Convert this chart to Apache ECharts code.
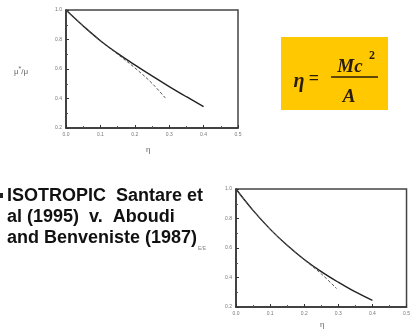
<!DOCTYPE html>
<html>
<head>
<meta charset="utf-8">
<script src="https://cdn.jsdelivr.net/npm/echarts@6/dist/echarts.min.js"></script>
<style>
  html, body { margin: 0; padding: 0; background: #fff; }
  #chart { width: 413px; height: 334px; }
</style>
</head>
<body>
<div id="chart"></div>
<script>
// top chart: mu*/mu vs eta
const eta1 = [0, 0.05, 0.1, 0.15, 0.2, 0.25, 0.3, 0.35, 0.4]
const muSolid = [1.0, 0.892, 0.792, 0.706, 0.628, 0.553, 0.481, 0.412, 0.345]
const etaDash1 = [0, 0.05, 0.1, 0.15, 0.2, 0.25, 0.29]
const muDash = [1.0, 0.892, 0.79, 0.70, 0.608, 0.503, 0.40]

// bottom chart: E/E vs eta
const eta2 = [0, 0.05, 0.1, 0.15, 0.2, 0.25, 0.3, 0.35, 0.4]
const eSolid = [1.0, 0.855, 0.728, 0.618, 0.522, 0.44, 0.368, 0.302, 0.245]
const etaDash2 = [0, 0.05, 0.1, 0.15, 0.2, 0.25, 0.295]
const eDash = [1.0, 0.855, 0.728, 0.618, 0.52, 0.425, 0.325]

const textLines = ['ISOTROPIC  Santare et', 'al (1995)  v.  Aboudi', 'and Benveniste (1987)']

const pairs = (xs, ys) => xs.map((x, i) => [x, ys[i]])

const chart = echarts.init(document.getElementById('chart'))

const xAxisBase = {
  type: 'value',
  min: 0,
  max: 0.5,
  interval: 0.1,
  axisLine: { show: true, onZero: false, lineStyle: { color: '#333', width: 1.5 } },
  axisTick: { show: true, inside: true, length: 3, lineStyle: { color: '#333' } },
  minorTick: { show: true, splitNumber: 2, length: 2, lineStyle: { color: '#555' } },
  splitLine: { show: false },
  axisLabel: {
    color: '#777',
    fontSize: 5,
    margin: 4,
    formatter: v => v.toFixed(1)
  }
}
const yAxisBase = {
  type: 'value',
  min: 0.2,
  max: 1.0,
  interval: 0.2,
  axisLine: { show: true, onZero: false, lineStyle: { color: '#333', width: 1.5 } },
  axisTick: { show: true, inside: true, length: 3, lineStyle: { color: '#333' } },
  minorTick: { show: true, splitNumber: 2, length: 2, lineStyle: { color: '#555' } },
  splitLine: { show: false },
  axisLabel: {
    color: '#777',
    fontSize: 5,
    margin: 4,
    formatter: v => v.toFixed(1)
  }
}

const option = {
  backgroundColor: '#fff',
  animation: false,
  grid: [
    { left: 66, top: 10, width: 172, height: 118, show: true, borderColor: '#444', borderWidth: 1.5 },
    { left: 236, top: 189, width: 176, height: 118, show: true, borderColor: '#444', borderWidth: 1.5 }
  ],
  xAxis: [
    { ...xAxisBase, gridIndex: 0 },
    { ...xAxisBase, gridIndex: 1 }
  ],
  yAxis: [
    { ...yAxisBase, gridIndex: 0 },
    { ...yAxisBase, gridIndex: 1 }
  ],
  series: [
    {
      type: 'line',
      xAxisIndex: 0,
      yAxisIndex: 0,
      smooth: 0.4,
      showSymbol: false,
      lineStyle: { color: '#222', width: 1.4 },
      data: pairs(eta1, muSolid)
    },
    {
      type: 'line',
      xAxisIndex: 0,
      yAxisIndex: 0,
      smooth: 0.4,
      showSymbol: false,
      lineStyle: { color: '#555', width: 1, type: [3, 2] },
      data: pairs(etaDash1, muDash)
    },
    {
      type: 'line',
      xAxisIndex: 1,
      yAxisIndex: 1,
      smooth: 0.4,
      showSymbol: false,
      lineStyle: { color: '#222', width: 1.4 },
      data: pairs(eta2, eSolid)
    },
    {
      type: 'line',
      xAxisIndex: 1,
      yAxisIndex: 1,
      smooth: 0.4,
      showSymbol: false,
      lineStyle: { color: '#555', width: 1, type: [3, 2] },
      data: pairs(etaDash2, eDash)
    }
  ],
  graphic: [
    // axis names
    {
      type: 'text', left: 14, top: 66,
      style: {
        text: '{a|μ}{s|*}{a|/μ}',
        rich: {
          a: { fontSize: 8, fill: '#666' },
          s: { fontSize: 7, fill: '#666', verticalAlign: 'top', padding: [0, 0, 4, 0] }
        }
      }
    },
    { type: 'text', left: 146, top: 146, style: { text: 'η', fontSize: 8, fill: '#666' } },
    { type: 'text', left: 320, top: 321, style: { text: 'η', fontSize: 8, fill: '#666' } },
    { type: 'text', left: 198, top: 246, style: { text: 'E/E', fontSize: 5, fill: '#888' } },
    // formula box
    {
      type: 'rect',
      shape: { x: 281, y: 37, width: 107, height: 73 },
      style: { fill: '#FFC800' }
    },
    {
      type: 'text', x: 299, y: 82,
      style: {
        text: 'η', font: 'italic bold 20px "Liberation Serif"', fill: '#2a1c0a',
        align: 'center', verticalAlign: 'middle'
      }
    },
    {
      type: 'text', x: 314, y: 79,
      style: {
        text: '=', font: 'bold 18px "Liberation Serif"', fill: '#2a1c0a',
        align: 'center', verticalAlign: 'middle'
      }
    },
    {
      type: 'line',
      shape: { x1: 331, y1: 77, x2: 378, y2: 77 },
      style: { stroke: '#2a1c0a', lineWidth: 1.5 }
    },
    {
      type: 'text', x: 350, y: 67,
      style: {
        text: 'Mc', font: 'italic bold 19px "Liberation Serif"', fill: '#2a1c0a',
        align: 'center', verticalAlign: 'middle'
      }
    },
    {
      type: 'text', x: 372, y: 56,
      style: {
        text: '2', font: 'bold 12px "Liberation Serif"', fill: '#2a1c0a',
        align: 'center', verticalAlign: 'middle'
      }
    },
    {
      type: 'text', x: 349, y: 97,
      style: {
        text: 'A', font: 'italic bold 19px "Liberation Serif"', fill: '#2a1c0a',
        align: 'center', verticalAlign: 'middle'
      }
    },
    // bullet text
    { type: 'rect', shape: { x: 0, y: 193, width: 3, height: 5 }, style: { fill: '#222' } },
    ...textLines.map((t, i) => ({
      type: 'text', x: 7, y: 196 + i * 21,
      style: {
        text: t, font: 'bold 18px "Liberation Sans"', fill: '#111',
        align: 'left', verticalAlign: 'middle'
      }
    }))
  ]
}

chart.setOption(option)
</script>
</body>
</html>
